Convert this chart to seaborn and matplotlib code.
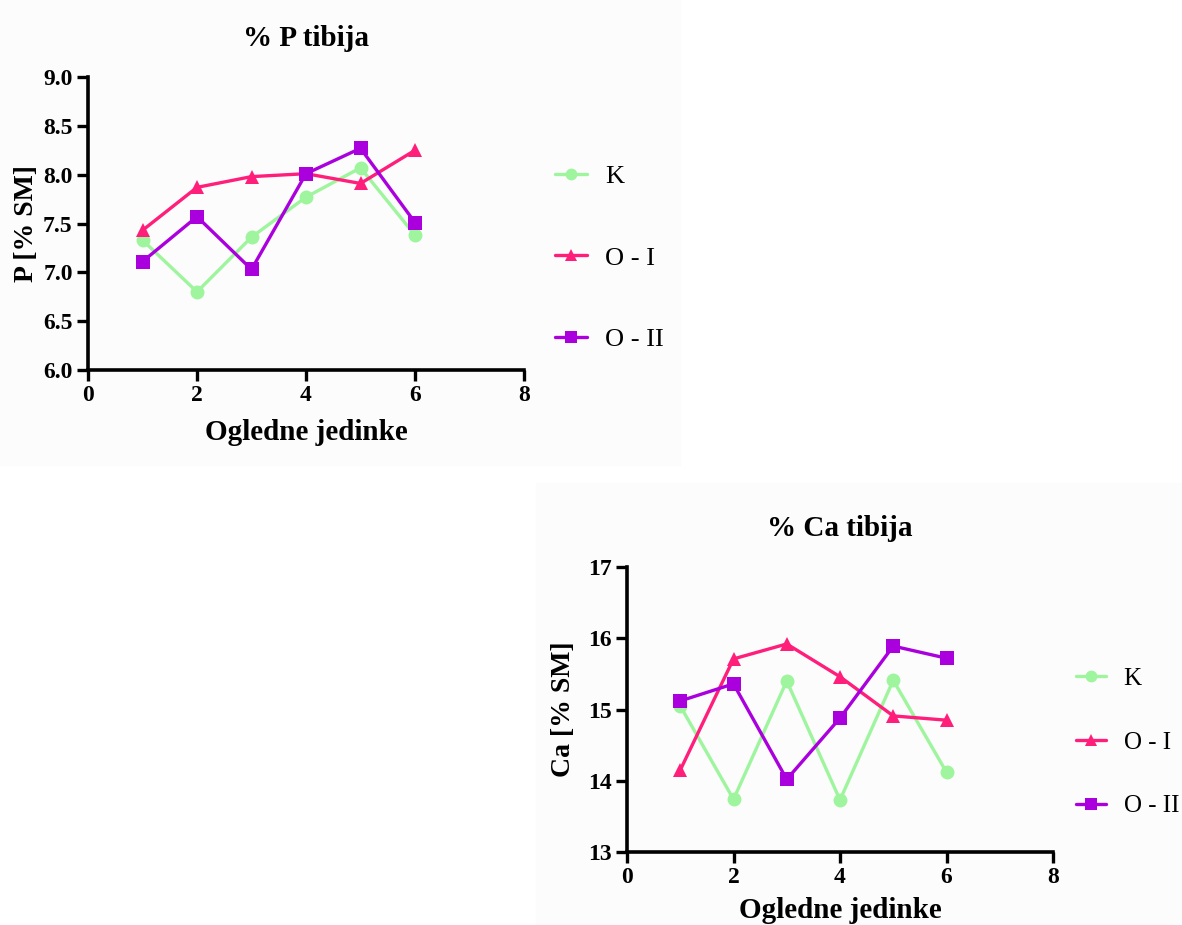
import numpy as np
import pandas as pd
import matplotlib
matplotlib.use("Agg")
import matplotlib.pyplot as plt
from matplotlib.patches import Rectangle
import seaborn as sns

# Data
jedinke = [1, 2, 3, 4, 5, 6]
grupe = ["K", "O - I", "O - II"]

p_k = [7.33, 6.80, 7.36, 7.77, 8.07, 7.38]
p_o1 = [7.43, 7.87, 7.98, 8.01, 7.91, 8.25]
p_o2 = [7.11, 7.57, 7.03, 8.01, 8.27, 7.51]

ca_k = [15.05, 13.74, 15.40, 13.73, 15.41, 14.12]
ca_o1 = [14.15, 15.71, 15.92, 15.46, 14.91, 14.85]
ca_o2 = [15.12, 15.36, 14.02, 14.88, 15.89, 15.72]

boje = {"K": "#9ef59e", "O - I": "#ff1f7a", "O - II": "#aa00dd"}
markeri = {"K": "o", "O - I": "^", "O - II": "s"}


def long_df(vals, name):
    rows = []
    for g, v in zip(grupe, vals):
        for x, y in zip(jedinke, v):
            rows.append({"jedinka": x, name: y, "grupa": g})
    return pd.DataFrame(rows)


df_p = long_df([p_k, p_o1, p_o2], "P")
df_ca = long_df([ca_k, ca_o1, ca_o2], "Ca")

sns.set_style("ticks")
plt.rcParams["font.family"] = ["Liberation Serif", "DejaVu Serif"]
plt.rcParams["text.color"] = "black"
plt.rcParams["axes.labelcolor"] = "black"

W, H = 1182, 925
fig = plt.figure(figsize=(W / 100, H / 100), dpi=100)
fig.patch.set_facecolor("white")

# faint panel backgrounds
fig.patches.append(Rectangle((0, 1 - 465 / H), 680 / W, 465 / H,
                             transform=fig.transFigure, color="#fcfcfc", zorder=-10))
fig.patches.append(Rectangle((536 / W, 0), 1 - 536 / W, 1 - 483 / H,
                             transform=fig.transFigure, color="#fcfcfc", zorder=-10))

ax1 = fig.add_axes([88 / W, 1 - 370 / H, (524 - 88) / W, (370 - 77) / H])
ax2 = fig.add_axes([627 / W, 1 - 852 / H, (1053 - 627) / W, (852 - 567) / H])


def draw(ax, df, ycol, ylim, yticks, yfmt, title, ylabel, ylab_x, xlab_pad,
         legend_anchor, spacing, legend_size):
    ax.set_facecolor("none")
    sns.lineplot(data=df, x="jedinka", y=ycol, hue="grupa", style="grupa",
                 palette=boje, markers=markeri, dashes=False, ax=ax,
                 linewidth=2.4, markersize=10, markeredgewidth=0)
    ax.set_xlim(0, 8)
    ax.set_ylim(*ylim)
    ax.set_xticks([0, 2, 4, 6, 8])
    ax.set_yticks(yticks)
    ax.set_yticklabels([yfmt.format(t) for t in yticks])
    for s in ["top", "right"]:
        ax.spines[s].set_visible(False)
    for s in ["left", "bottom"]:
        ax.spines[s].set_linewidth(2.6)
        ax.spines[s].set_color("black")
    ax.tick_params(axis="both", direction="out", length=8, width=2.4,
                   labelsize=17, colors="black", pad=3)
    for lab in ax.get_xticklabels() + ax.get_yticklabels():
        lab.set_fontweight("bold")
    ax.set_xlabel("Ogledne jedinke", fontsize=21, fontweight="bold",
                  labelpad=xlab_pad, color="black")
    ax.set_ylabel(ylabel, fontsize=20, fontweight="bold", color="black")
    ax.yaxis.set_label_coords(ylab_x, 0.5)
    ax.set_title(title, fontsize=21, fontweight="bold", pad=22, color="black")
    handles, labels = ax.get_legend_handles_labels()
    leg = ax.legend(handles, labels, loc="center left",
                    bbox_to_anchor=legend_anchor, frameon=False,
                    fontsize=legend_size, labelspacing=spacing,
                    handlelength=1.2, handletextpad=0.7, borderpad=0,
                    borderaxespad=0, markerscale=0.85)
    for t in leg.get_texts():
        t.set_color("black")


draw(ax1, df_p, "P", (6.0, 9.0), [6.0, 6.5, 7.0, 7.5, 8.0, 8.5, 9.0], "{:.1f}",
     "% P tibija", "P [% SM]", -0.112, 9, (1.071, 0.383), 2.2, 19)
draw(ax2, df_ca, "Ca", (13, 17), [13, 14, 15, 16, 17], "{:.0f}",
     "% Ca tibija", "Ca [% SM]", -0.12, 6, (1.054, 0.385), 1.65, 18)

fig.savefig("out.png", dpi=100)
